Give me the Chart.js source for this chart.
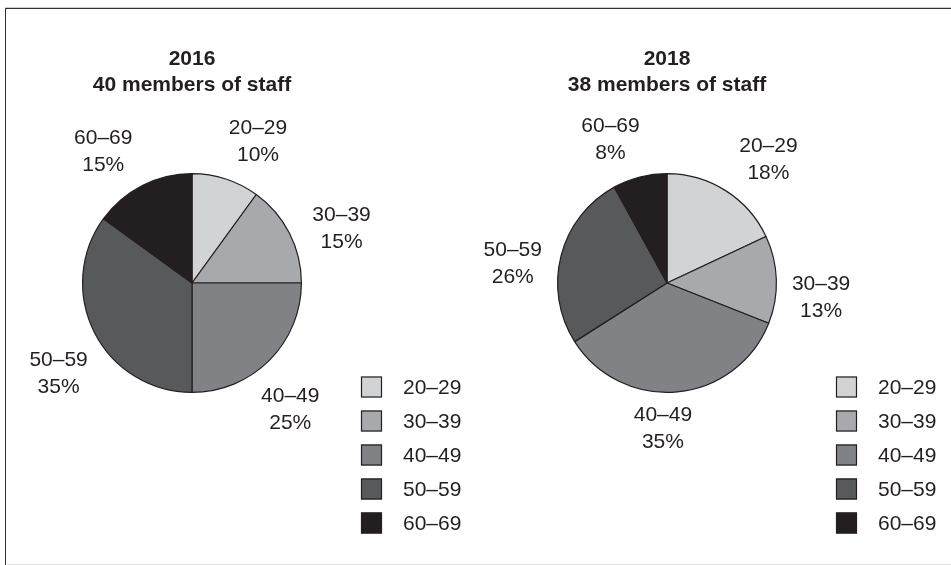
<!DOCTYPE html>
<html>
<head>
<meta charset="utf-8">
<script src="https://cdn.jsdelivr.net/npm/chart.js@4"></script>
<style>
    html, body { margin: 0; padding: 0; background: #fff; }
    body { width: 951px; height: 565px; position: relative; overflow: hidden; }
    .frame {
        position: absolute; left: 5px; top: 8px; right: -2px; bottom: -2px;
        border-top: 1.5px solid #333; border-left: 1.5px solid #333;
        box-shadow: 0 -1px 0 #ccc;
    }
    .bottom-line { position: absolute; left: 7px; right: 0; top: 564px; height: 1px; background: #e2e2e2; }
    .pie { position: absolute; top: 0; height: 565px; }
</style>
</head>
<body>
<div class="frame"></div>
<div class="bottom-line"></div>
<canvas id="pie2016" class="pie" style="left:0;width:475px"></canvas>
<canvas id="pie2018" class="pie" style="left:475px;width:476px"></canvas>
<script>
const ageGroups = ["20–29", "30–39", "40–49", "50–59", "60–69"];
const share2016 = [10, 15, 25, 35, 15];
const share2018 = [18, 13, 35, 26, 8];
const years = ["2016", "2018"];
const staffCounts = [40, 38];

const colors = ['#d1d3d4', '#a7a9ac', '#808285', '#58595b', '#231f20'];
const ink = '#231f20';
const font = '"Liberation Sans", Arial, sans-serif';

// titles, outside labels and legend drawn around the pie
const decorations = {
    id: 'decorations',
    afterDraw(chart, args, opts) {
        const ctx = chart.ctx;
        const arcs = chart.getDatasetMeta(0).data;
        const cx = arcs[0].x, cy = arcs[0].y, r = arcs[0].outerRadius;
        const values = chart.data.datasets[0].data;

        ctx.save();
        ctx.fillStyle = ink;
        ctx.textAlign = 'center';
        ctx.textBaseline = 'middle';

        // title
        ctx.font = 'bold 21px ' + font;
        ctx.fillText(opts.year, cx, 59);
        ctx.fillText(opts.staff + ' members of staff', cx, 85);

        // slice labels, nudged a little downwards on both sides
        ctx.font = '21px ' + font;
        arcs.forEach((arc, i) => {
            let mid = (arc.startAngle + arc.endAngle) / 2;
            mid += Math.sign(Math.cos(mid)) * 7 * Math.PI / 180;
            const lines = [chart.data.labels[i], values[i] + '%'];
            const w = Math.max(...lines.map(t => ctx.measureText(t).width));
            const h = 50;
            const push = Math.abs(Math.cos(mid)) * (w / 2 + 4) + Math.abs(Math.sin(mid)) * h / 2;
            const d = r + 10 + push;
            const x = cx + Math.cos(mid) * d;
            const y = cy + Math.sin(mid) * d;
            ctx.fillText(lines[0], x, y - 13);
            ctx.fillText(lines[1], x, y + 14);
        });

        // legend
        const lx = cx + 169;
        ctx.textAlign = 'left';
        chart.data.labels.forEach((label, i) => {
            const y = 387 + i * 34;
            ctx.fillStyle = colors[i];
            ctx.fillRect(lx, y - 10.5, 21, 21);
            ctx.strokeStyle = ink;
            ctx.lineWidth = 1.2;
            ctx.strokeRect(lx + 0.5, y - 10, 20, 20);
            ctx.fillStyle = ink;
            ctx.fillText(label, lx + 42, y + 1);
        });
        ctx.restore();
    }
};

function makePie(id, values, year, staff, rightPad) {
    new Chart(document.getElementById(id), {
        type: 'pie',
        data: {
            labels: ageGroups,
            datasets: [{
                data: values,
                backgroundColor: colors,
                borderColor: ink,
                borderWidth: 1.2
            }]
        },
        options: {
            responsive: false,
            animation: false,
            layout: { padding: { left: 82, right: rightPad, top: 173, bottom: 172 } },
            plugins: {
                legend: { display: false },
                tooltip: { enabled: false },
                decorations: { year: year, staff: staff }
            }
        },
        plugins: [decorations]
    });
}

document.getElementById('pie2016').width = 475;
document.getElementById('pie2016').height = 565;
document.getElementById('pie2018').width = 476;
document.getElementById('pie2018').height = 565;

makePie('pie2016', share2016, years[0], staffCounts[0], 173);
makePie('pie2018', share2018, years[1], staffCounts[1], 174);
</script>
</body>
</html>
